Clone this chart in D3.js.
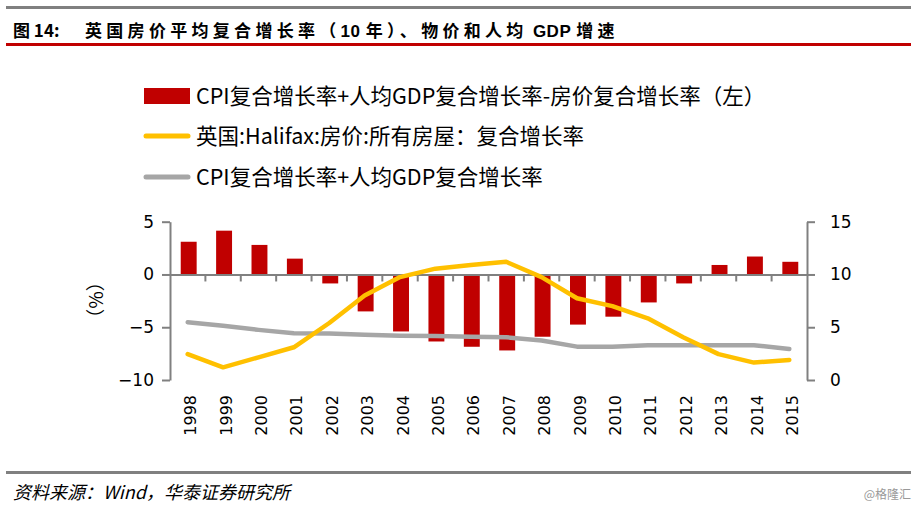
<!DOCTYPE html>
<html>
<head>
<meta charset="utf-8">
<script src="https://cdn.jsdelivr.net/npm/d3@7/dist/d3.min.js"></script>
<style>
  html, body { margin: 0; padding: 0; background: #fff; }
  svg { display: block; }
</style>
</head>
<body>
<svg id="chart" width="917" height="510"></svg>
<script>
const years = ["1998","1999","2000","2001","2002","2003","2004","2005","2006","2007","2008","2009","2010","2011","2012","2013","2014","2015"];
const diffValues = [3.1, 4.15, 2.8, 1.5, -0.85, -3.5, -5.4, -6.35, -6.85, -7.2, -5.9, -4.75, -4.0, -2.65, -0.85, 0.9, 1.7, 1.2];
const housePrice = [2.45, 1.2, 2.15, 3.1, 5.4, 8.0, 9.75, 10.55, 10.9, 11.2, 9.75, 7.75, 7.0, 5.85, 4.05, 2.45, 1.65, 1.9];
const cpiGdp = [5.48, 5.13, 4.75, 4.43, 4.4, 4.28, 4.2, 4.18, 4.1, 4.05, 3.75, 3.16, 3.16, 3.3, 3.3, 3.3, 3.3, 2.94];
const leftTicks = [-10, -5, 0, 5];
const rightTicks = [0, 5, 10, 15];
const legendLabels = [
  "CPI复合增长率+人均GDP复合增长率-房价复合增长率（左）",
  "英国:Halifax:房价:所有房屋：复合增长率",
  "CPI复合增长率+人均GDP复合增长率"
];
const titleText = "图 14:";
const titleParts = [
  { t: "英国房价平均复合增长率（", cjk: true },
  { t: "10 ", cjk: false },
  { t: "年）、物价和人均", cjk: true },
  { t: " GDP ", cjk: false },
  { t: "增速", cjk: true }
];
const sourceText = "资料来源：Wind，华泰证券研究所";
const watermark = "@格隆汇";

const RED = "#c00000", YELLOW = "#ffc000", GRAY = "#a6a6a6", AXIS = "#808080";
const svg = d3.select("#chart");
const cjk = "'Noto Sans CJK SC', 'Noto Sans', sans-serif";
const num = "'DejaVu Sans', 'Liberation Sans', sans-serif";

// header
svg.append("rect").attr("x", 6).attr("y", 6).attr("width", 905).attr("height", 3).attr("fill", AXIS);
svg.append("text").attr("x", 13).attr("y", 37).attr("font-family", cjk).attr("font-weight", "bold")
  .attr("font-size", 17).attr("fill", "#000").text(titleText);
const tt = svg.append("text").attr("x", 85).attr("y", 37).attr("font-family", cjk).attr("font-weight", "bold")
  .attr("font-size", 17).attr("fill", "#000").attr("xml:space", "preserve").style("white-space", "pre");
tt.selectAll("tspan").data(titleParts).join("tspan")
  .attr("letter-spacing", d => d.cjk ? 4.3 : 0.5)
  .attr("font-family", d => d.cjk ? cjk : "'Liberation Sans', Arial, sans-serif")
  .text(d => d.t);
svg.append("rect").attr("x", 6).attr("y", 43).attr("width", 905).attr("height", 3).attr("fill", RED);

// footer
svg.append("rect").attr("x", 6).attr("y", 471).attr("width", 905).attr("height", 3).attr("fill", AXIS);
svg.append("text").attr("x", 13).attr("y", 499).attr("font-family", cjk).attr("font-style", "italic")
  .attr("font-size", 18).attr("fill", "#000").text(sourceText);
svg.append("text").attr("x", 911).attr("y", 499).attr("text-anchor", "end").attr("font-family", cjk)
  .attr("font-size", 12).attr("fill", "#999").text(watermark);

// scales
const x = d3.scaleBand().domain(years).range([170, 807]).padding(0);
const yL = d3.scaleLinear().domain([-10, 5]).range([380, 221.7]);
const yR = d3.scaleLinear().domain([0, 15]).range([380, 221.7]);
const barW = x.bandwidth() * 0.45;

// bars
svg.append("g").selectAll("rect").data(years).join("rect")
  .attr("x", (d) => x(d) + x.bandwidth() / 2 - barW / 2 + 1)
  .attr("width", barW)
  .attr("y", (d, i) => yL(Math.max(0, diffValues[i])))
  .attr("height", (d, i) => Math.abs(yL(diffValues[i]) - yL(0)))
  .attr("fill", RED);

// axes
const gL = svg.append("g").attr("transform", "translate(170,0)")
  .call(d3.axisLeft(yL).tickValues(leftTicks).tickSize(8).tickSizeOuter(0).tickPadding(8));
const gR = svg.append("g").attr("transform", "translate(807,0)")
  .call(d3.axisRight(yR).tickValues(rightTicks).tickSize(8).tickSizeOuter(0).tickPadding(15));
[gL, gR].forEach(g => {
  g.select(".domain").attr("stroke", AXIS).attr("stroke-width", 2);
  g.selectAll(".tick line").attr("stroke", AXIS).attr("stroke-width", 2);
  g.selectAll(".tick text").attr("font-family", num).attr("font-size", 17).attr("fill", "#000");
});

// x axis at zero
const gX = svg.append("g").attr("transform", `translate(0,${yL(0)})`)
  .call(d3.axisBottom(x).tickSize(0).tickSizeOuter(0).tickFormat(""));
gX.select(".domain").attr("stroke", AXIS).attr("stroke-width", 2);
gX.selectAll(".xb").data(years.slice(1)).join("line").attr("class", "xb")
  .attr("x1", d => x(d)).attr("x2", d => x(d)).attr("y1", 0).attr("y2", 7)
  .attr("stroke", AXIS).attr("stroke-width", 2);

// year labels
svg.append("g").selectAll("text").data(years).join("text")
  .attr("transform", d => `translate(${x(d) + x.bandwidth() / 2 + 3},395) rotate(-90)`)
  .attr("text-anchor", "end").attr("dy", "0.35em")
  .attr("font-family", num).attr("font-size", 16).attr("fill", "#000").text(d => d);

// lines
const lineR = d3.line().x((d, i) => x(years[i]) + x.bandwidth() / 2).y(d => yR(d));
svg.append("path").datum(cpiGdp).attr("d", lineR).attr("fill", "none")
  .attr("stroke", GRAY).attr("stroke-width", 4.5).attr("stroke-linejoin", "round").attr("stroke-linecap", "round");
svg.append("path").datum(housePrice).attr("d", lineR).attr("fill", "none")
  .attr("stroke", YELLOW).attr("stroke-width", 4.5).attr("stroke-linejoin", "round").attr("stroke-linecap", "round");

// y label
svg.append("text").attr("transform", "translate(96,300) rotate(-90)").attr("text-anchor", "middle")
  .attr("dy", "0.35em").attr("font-family", cjk).attr("font-size", 19).attr("fill", "#000").text("（%）");

// legend
const legY = [96, 136, 177];
const lg = svg.append("g");
lg.append("rect").attr("x", 144).attr("y", legY[0] - 8).attr("width", 46).attr("height", 16).attr("fill", RED);
lg.append("line").attr("x1", 146).attr("x2", 188).attr("y1", legY[1]).attr("y2", legY[1])
  .attr("stroke", YELLOW).attr("stroke-width", 5).attr("stroke-linecap", "round");
lg.append("line").attr("x1", 146).attr("x2", 188).attr("y1", legY[2]).attr("y2", legY[2])
  .attr("stroke", GRAY).attr("stroke-width", 5).attr("stroke-linecap", "round");
lg.selectAll("text").data(legendLabels).join("text")
  .attr("x", 196).attr("y", (d, i) => legY[i]).attr("dy", "0.36em")
  .attr("font-family", cjk).attr("font-size", 21.5).attr("fill", "#000").text(d => d);
</script>
</body>
</html>
